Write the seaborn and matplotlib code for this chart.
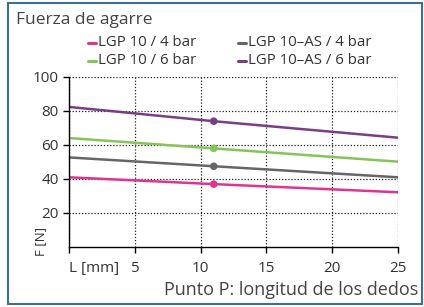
import matplotlib
matplotlib.use("Agg")
import matplotlib.pyplot as plt
import seaborn as sns
import pandas as pd
from matplotlib.patches import Rectangle
from matplotlib.lines import Line2D

sns.set_theme(style="white")
plt.rcParams['font.family'] = ['Open Sans', 'DejaVu Sans']

L = [0, 11, 25]
series = ["LGP 10 / 4 bar", "LGP 10 / 6 bar", "LGP 10\u2013AS / 4 bar", "LGP 10\u2013AS / 6 bar"]
lgp10_4 = [41, 37, 32.2]
lgp10_6 = [64.1, 58, 50.2]
lgp10as_4 = [52.7, 47.5, 41]
lgp10as_6 = [82.4, 74, 64.3]
marker_L = 11
colors = ["#df3590", "#86c35a", "#666666", "#7a3d86"]
yticks = [20, 40, 60, 80, 100]
xticks = [5, 10, 15, 20, 25]

rows = []
for name, vals in zip(series, [lgp10_4, lgp10_6, lgp10as_4, lgp10as_6]):
    for l, v in zip(L, vals):
        rows.append({"L": l, "F": v, "serie": name})
df = pd.DataFrame(rows)

W, H = 424, 307
fig = plt.figure(figsize=(W/100, H/100), dpi=100)
ax = fig.add_axes([69/W, 1-247/H, (398-69)/W, (247-77)/H])

sns.lineplot(data=df, x="L", y="F", hue="serie", palette=colors, hue_order=series,
             ax=ax, linewidth=1.8, legend=False)
dm = df[df["L"] == marker_L]
sns.scatterplot(data=dm, x="L", y="F", hue="serie", palette=colors, hue_order=series,
                ax=ax, s=30, edgecolor="none", legend=False, zorder=5)

ax.set_xlim(0, 25)
ax.set_ylim(0, 100)
ax.set_xticks([0] + xticks)
ax.set_xticklabels(["L [mm]"] + [str(t) for t in xticks])
ax.set_yticks(yticks)
ax.set_yticklabels([str(t) for t in yticks])
ax.grid(True, color="#222222", linestyle=(0, (1.0, 1.5)), linewidth=0.9)
ax.set_axisbelow(True)
for s in ["top", "right"]:
    ax.spines[s].set_visible(False)
for s in ["left", "bottom"]:
    ax.spines[s].set_color("black")
    ax.spines[s].set_linewidth(1.0)
ax.tick_params(axis="both", which="both", length=4, width=1, color="black",
               labelsize=11, labelcolor="#333333", direction="out")
ax.tick_params(axis="x", pad=6)
ax.xaxis.set_tick_params(bottom=True)
ax.yaxis.set_tick_params(left=True)
lbls = ax.get_xticklabels()
lbls[0].set_horizontalalignment("left")
ax.set_xlabel("")
ax.set_ylabel("F [N]", fontsize=9.5, color="#333333", labelpad=0)
ax.yaxis.set_label_coords(-0.067, 0.035)

fig.text(16/W, 1-20/H, "Fuerza de agarre", fontsize=12.5, color="#444444",
         ha="left", va="center")
fig.text(418/W, 1-290/H, "Punto P: longitud de los dedos", fontsize=13,
         color="#444444", ha="right", va="center")

# legend laid out in two columns
leg_pos = [(88, 43), (88, 61), (238, 43), (238, 61)]
for (x, y), c, name in zip(leg_pos, colors, series):
    fig.add_artist(Line2D([x/W, (x+8)/W], [1-y/H, 1-y/H], color=c, linewidth=2.2,
                          transform=fig.transFigure))
    fig.text((x+10)/W, 1-y/H, name, fontsize=10.8, color="#333333",
             ha="left", va="center")

fig.patches.append(Rectangle((8/W, 3/H), 414/W, 301/H, transform=fig.transFigure,
                             fill=False, edgecolor="#3c6e96", linewidth=1.5))

fig.savefig("out.png", dpi=100)
